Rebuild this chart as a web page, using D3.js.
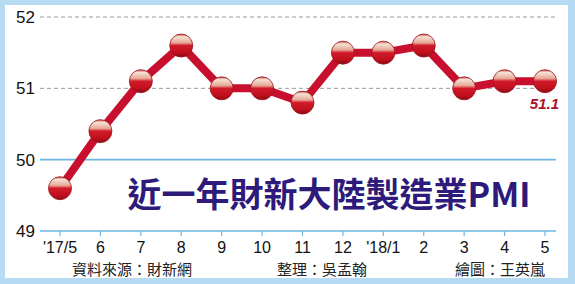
<!DOCTYPE html>
<html><head><meta charset="utf-8">
<script src="https://cdn.jsdelivr.net/npm/d3@7"></script>
<style>body{margin:0;background:#fff}svg{display:block}</style>
</head><body>
<svg id="c" width="575" height="284"></svg>
<script>
const categories = ["'17/5","6","7","8","9","10","11","12","'18/1","2","3","4","5"];
const values = [49.6,50.4,51.1,51.6,51.0,51.0,50.8,51.5,51.5,51.6,51.0,51.1,51.1];
const yTicks = [49,50,51,52];
const title = "近一年財新大陸製造業PMI";
const credits = ["資料來源：財新網","整理：吳孟翰","繪圖：王英嵐"];

const svg = d3.select("#c");
const W=575,H=284;
svg.append("rect").attr("width",W).attr("height",H).attr("fill","#b8dbf4");
svg.append("rect").attr("x",5).attr("y",5).attr("width",563).attr("height",273).attr("fill","#fff");

const x = d3.scalePoint().domain(categories).range([60,545]);
const y = d3.scaleLinear().domain([49,52]).range([231,17]);

const defs = svg.append("defs");
const g = defs.append("linearGradient").attr("id","ball").attr("x1",0).attr("y1",0).attr("x2",0).attr("y2",1);
[[0,"#c64a4a"],[0.12,"#f4e2d2"],[0.38,"#e8a898"],[0.5,"#d21a2a"],[0.8,"#c0101c"],[1,"#8c0a16"]].forEach(s=>g.append("stop").attr("offset",s[0]).attr("stop-color",s[1]));

// grid
yTicks.forEach(t=>{
  const solid = t<=50;
  svg.append("line").attr("x1",40).attr("x2",556).attr("y1",y(t)).attr("y2",y(t))
    .attr("stroke",solid?"#6db7e2":"#9a9a9a").attr("stroke-width",solid?1.6:1)
    .attr("stroke-dasharray",solid?null:"4,3");
  svg.append("text").attr("x",35).attr("y",y(t)+6).attr("text-anchor","end")
    .attr("font-family","Liberation Sans, Arial, sans-serif").attr("font-size",17).attr("fill","#111").text(t);
});

// x axis ticks and labels
const xa = svg.append("g");
categories.forEach(c=>{
  xa.append("line").attr("x1",x(c)).attr("x2",x(c)).attr("y1",y(49)).attr("y2",y(49)+5).attr("stroke","#6db7e2").attr("stroke-width",1.2);
  xa.append("text").attr("x",x(c)).attr("y",253).attr("text-anchor","middle")
    .attr("font-family","Liberation Sans, Arial, sans-serif").attr("font-size",16).attr("fill","#111").text(c);
});

// title
svg.append("text").attr("x",329).attr("y",207).attr("text-anchor","middle")
  .attr("font-family","Noto Sans CJK TC, sans-serif").attr("font-weight","bold").attr("font-size",34)
  .attr("fill","#2d1a7a").text(title);

// line
const line = d3.line().x((d,i)=>x(categories[i])).y(d=>y(d));
svg.append("path").datum(values).attr("d",line).attr("fill","none").attr("stroke","#c8102e").attr("stroke-width",8).attr("stroke-linejoin","round");

svg.selectAll("circle.b").data(values).enter().append("circle")
  .attr("cx",(d,i)=>x(categories[i])).attr("cy",d=>y(d)).attr("r",11.5)
  .attr("fill","url(#ball)").attr("stroke","#9a1420").attr("stroke-width",0.8);

// last label
svg.append("text").attr("x",x(categories[12])+14).attr("y",y(values[12])+28).attr("text-anchor","end")
  .attr("font-family","Liberation Sans, Arial, sans-serif").attr("font-style","italic").attr("font-weight","bold")
  .attr("font-size",15).attr("fill","#b0102a").text(values[12].toFixed(1));

// credits
const cx=[132,322,500];
credits.forEach((t,i)=>svg.append("text").attr("x",cx[i]).attr("y",275).attr("text-anchor","middle")
  .attr("font-family","Noto Sans CJK TC, sans-serif").attr("font-size",15).attr("fill","#222").text(t));
</script>
</body></html>
